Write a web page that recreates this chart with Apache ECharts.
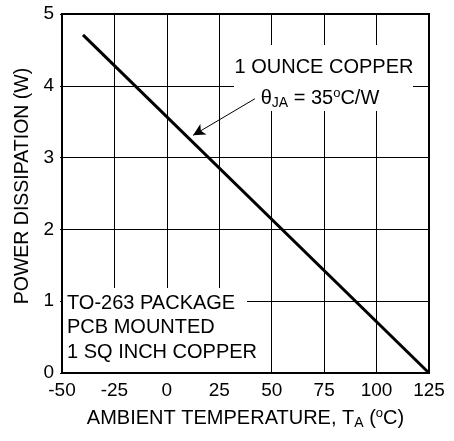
<!DOCTYPE html>
<html>
<head>
<meta charset="utf-8">
<script src="https://cdn.jsdelivr.net/npm/echarts@6/dist/echarts.min.js"></script>
<style>
html,body{margin:0;padding:0;background:#fff;}
#c{width:454px;height:441px;}
</style>
</head>
<body>
<div id="c"></div>
<script>
// Data
var temperature = [-40, 125];          // ambient temperature, °C
var powerDissipation = [4.71, 0];      // W
var xTicks = [-50, -25, 0, 25, 50, 75, 100, 125];
var yTicks = [0, 1, 2, 3, 4, 5];
var arrowFrom = [42, 3.82];
var arrowTo = [12.5, 3.31];

var FONT = 'Liberation Sans, Arial, Helvetica, sans-serif';
var chart = echarts.init(document.getElementById('c'), null, {renderer: 'canvas'});

var seriesData = temperature.map(function (t, i) { return [t, powerDissipation[i]]; });

chart.setOption({
  animation: false,
  backgroundColor: '#fff',
  grid: {left: 62, right: 25, top: 14, bottom: 68, containLabel: false, outerBoundsMode: 'none',
    show: true, borderColor: '#000', borderWidth: 2, backgroundColor: 'transparent'},
  xAxis: {
    type: 'value', min: xTicks[0], max: xTicks[xTicks.length - 1], interval: 25,
    name: 'AMBIENT TEMPERATURE, T{sub|A} ({sup|o}C)',
    nameLocation: 'middle', nameGap: 33,
    nameTextStyle: {color: '#000', fontSize: 20, fontFamily: FONT,
      rich: {
        sub: {fontSize: 14, fontFamily: FONT, color: '#000', padding: [10, 0, 0, 0]},
        sup: {fontSize: 13, fontFamily: FONT, color: '#000', padding: [0, 0, 10, 0]}
      }},
    axisLine: {show: true, onZero: false, lineStyle: {color: '#000', width: 2}},
    axisTick: {show: false},
    axisLabel: {color: '#000', fontSize: 19, fontFamily: FONT, margin: 8},
    splitLine: {show: true, lineStyle: {color: '#000', width: 1}}
  },
  yAxis: {
    type: 'value', min: yTicks[0], max: yTicks[yTicks.length - 1], interval: 1,
    axisLine: {show: true, onZero: false, lineStyle: {color: '#000', width: 2}},
    axisTick: {show: true, length: 2, lineStyle: {color: '#000'}},
    axisLabel: {color: '#000', fontSize: 19, fontFamily: FONT, margin: 8},
    splitLine: {show: true, lineStyle: {color: '#000', width: 1}}
  },
  graphic: [
    {type: 'text', z: 3, x: 23, y: 186, rotation: Math.PI / 2,
      style: {text: 'POWER DISSIPATION (W)', align: 'center', verticalAlign: 'middle', font: '19.5px ' + FONT, fill: '#000'}},
    {type: 'rect', z: 1, shape: {x: 234, y: 45, width: 179, height: 66}, style: {fill: '#fff'}},
    {type: 'rect', z: 1, shape: {x: 63, y: 288, width: 184, height: 84}, style: {fill: '#fff'}},
    {type: 'text', z: 3, style: {text: '1 OUNCE COPPER', x: 324, y: 67, align: 'center', verticalAlign: 'middle', font: '20px ' + FONT, fill: '#000'}},
    {type: 'text', z: 3, style: {text: 'θ{sub|JA} = 35{sup|o}C/W', x: 320, y: 98, align: 'center', verticalAlign: 'middle', font: '20px ' + FONT, fill: '#000',
      rich: {
        sub: {fontSize: 14, fontFamily: FONT, fill: '#000', padding: [10, 0, 0, 0]},
        sup: {fontSize: 13, fontFamily: FONT, fill: '#000', padding: [0, 0, 10, 0]}
      }}},
    {type: 'text', z: 3, style: {text: 'TO-263 PACKAGE\nPCB MOUNTED\n1 SQ INCH COPPER', x: 67, y: 291, align: 'left', verticalAlign: 'top', font: '20px ' + FONT, lineHeight: 24.5, fill: '#000'}}
  ],
  series: [{
    type: 'line',
    data: seriesData,
    showSymbol: false,
    lineStyle: {color: '#000', width: 3},
    z: 2,
    markLine: {
      silent: true,
      symbol: ['none', 'arrow'],
      symbolSize: [9, 12],
      label: {show: false},
      lineStyle: {color: '#000', width: 1, type: 'solid'},
      data: [[{coord: arrowFrom}, {coord: arrowTo}]]
    }
  }]
});
</script>
</body>
</html>
